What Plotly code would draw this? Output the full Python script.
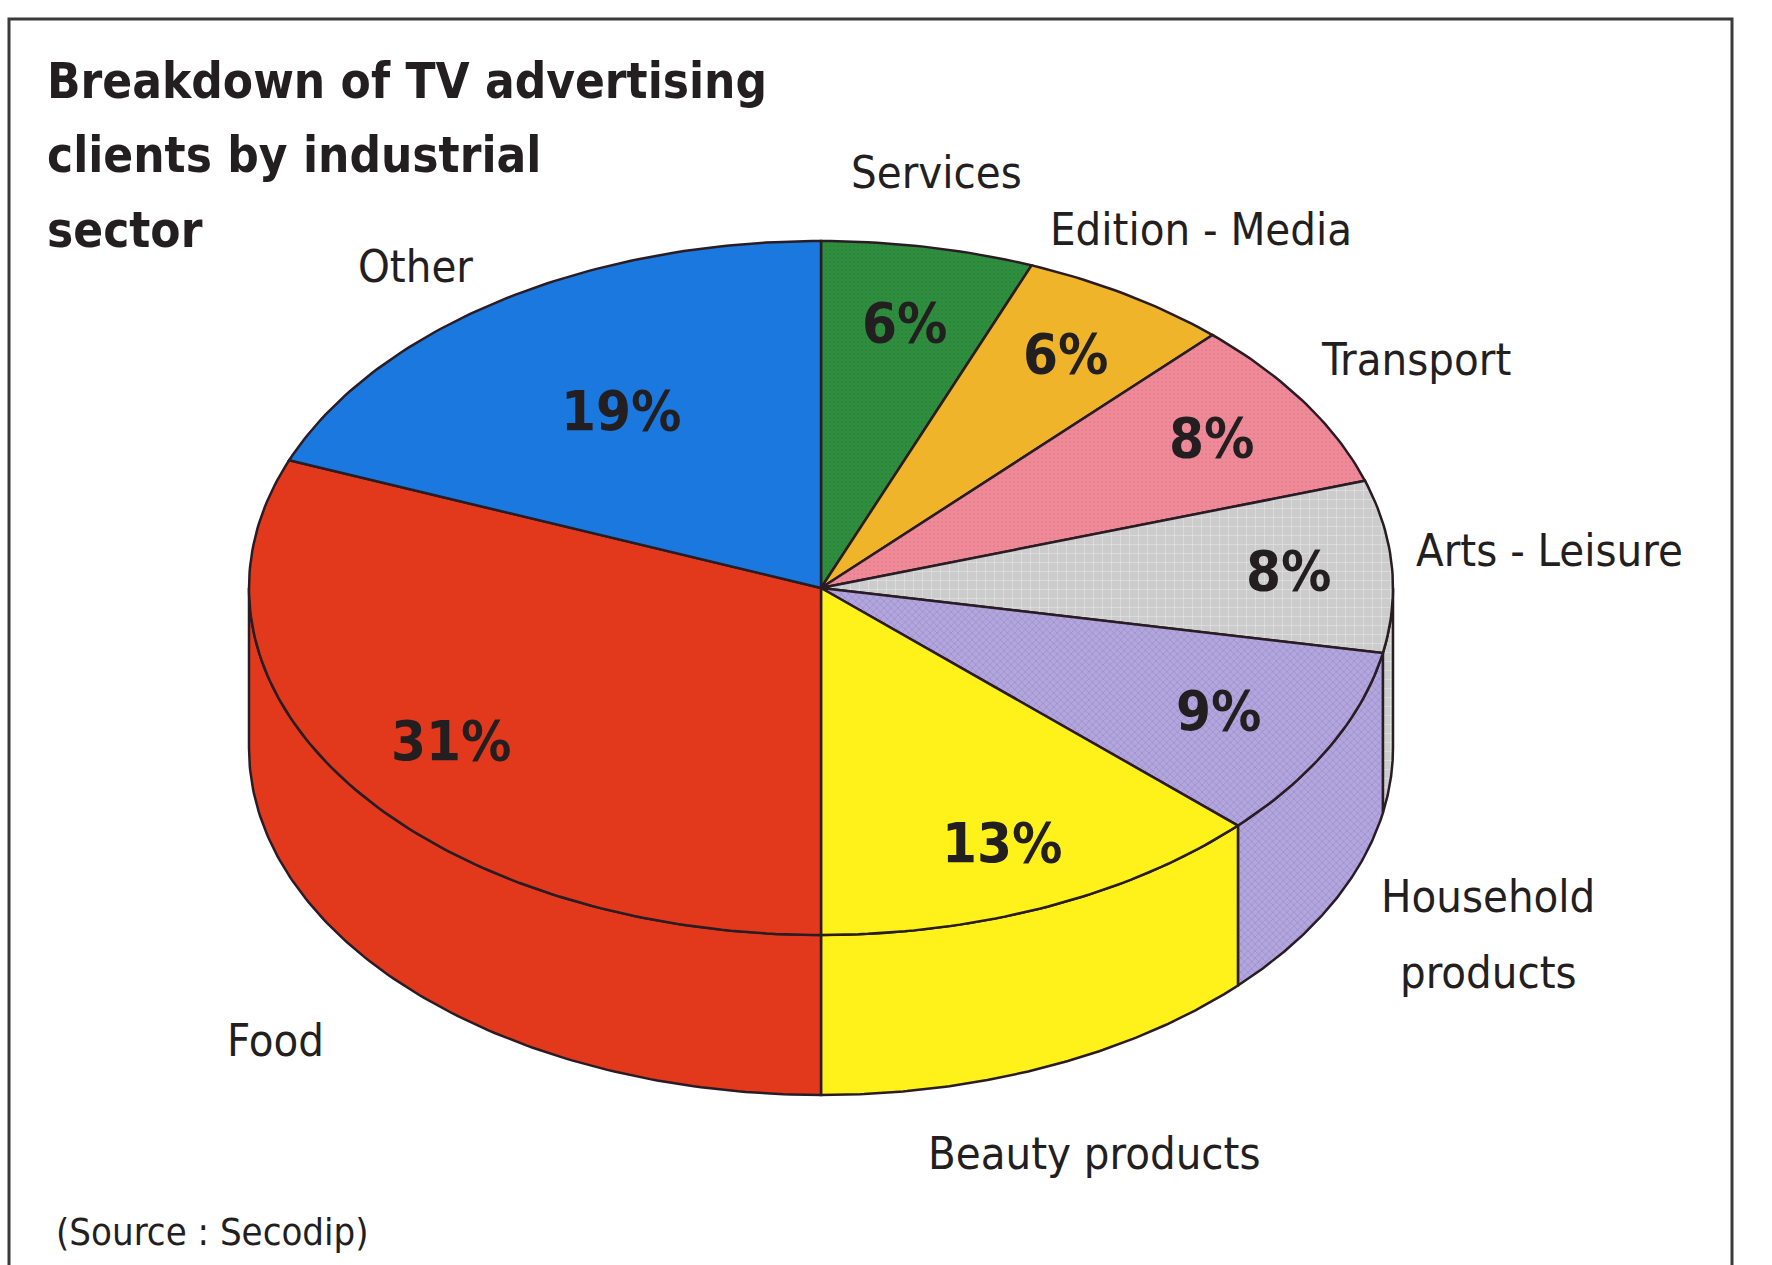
import numpy as np
import plotly.graph_objects as go

# ---- data -------------------------------------------------------------
sectors = ["Services", "Edition - Media", "Transport", "Arts - Leisure",
           "Household<br>products", "Beauty products", "Food", "Other"]
shares = [6, 6, 8, 8, 9, 13, 31, 19]
title_lines = ["Breakdown of TV advertising", "clients by industrial", "sector"]
source_note = "(Source : Secodip)"

# ---- styling ----------------------------------------------------------
slice_colors = ["#2f8e3d", "#efb42a", "#ef8a98", "#cccccc",
                "#b3a6dd", "#fff21a", "#e2391c", "#1a78de"]
slice_patterns = [dict(shape=".", size=4, solidity=0.12, fgcolor="#26793a"),
                  None,
                  dict(shape=".", size=4, solidity=0.15, fgcolor="#e27987"),
                  dict(shape="+", size=9, solidity=0.12, fgcolor="#e8e8e8"),
                  dict(shape="x", size=5, solidity=0.22, fgcolor="#9385c8"),
                  None, None, None]
EDGE = "#2a1c24"
TEXT = "#231f20"
FONT = "DejaVu Sans Condensed, Liberation Sans Narrow, Liberation Sans, sans-serif"

W, H = 1772, 1265
CX, CY = 821, 588          # centre of the top face
RX, RY = 572, 347          # ellipse radii of the tilted disc
DEPTH = 160                # thickness of the cylinder

# radial position (fraction of radius) of each percentage label
pct_radius = [0.78, 0.80, 0.81, 0.82, 0.78, 0.80, 0.78, 0.62]
# sector-name label anchors (x, y in page pixels)
name_xy = [(936, 172), (1201, 229), (1416, 359), (1549, 550),
           (1488, 934), (1094, 1153), (275, 1040), (415, 266)]
NAME_LINE = 76
title_y = [81, 155, 230]


def ellipse_pt(theta, r=1.0, dz=0.0):
    """Angle measured clockwise from 12 o'clock."""
    return CX + RX * r * np.sin(theta), CY - RY * r * np.cos(theta) + dz


total = float(sum(shares))
bounds = np.concatenate([[0.0], np.cumsum(shares)]) / total * 2 * np.pi

fig = go.Figure()


def add_poly(xs, ys, i):
    kw = dict(x=xs, y=ys, mode="lines", fill="toself",
              fillcolor=slice_colors[i],
              line=dict(color=EDGE, width=2.5),
              hoverinfo="skip", showlegend=False)
    if slice_patterns[i] is not None:
        p = dict(slice_patterns[i])
        p.update(bgcolor=slice_colors[i], fillmode="replace")
        kw["fillpattern"] = p
    fig.add_trace(go.Scatter(**kw))


# side walls: only the front half of the cylinder is visible
for i in range(len(shares)):
    a0, a1 = bounds[i], bounds[i + 1]
    lo, hi = max(a0, np.pi / 2), min(a1, 3 * np.pi / 2)
    if hi <= lo:
        continue
    t = np.linspace(lo, hi, 120)
    xt, yt = ellipse_pt(t)
    xb, yb = ellipse_pt(t[::-1], dz=DEPTH)
    xs = np.concatenate([xt, xb, xt[:1]])
    ys = np.concatenate([yt, yb, yt[:1]])
    add_poly(xs, ys, i)

# top face wedges
for i in range(len(shares)):
    a0, a1 = bounds[i], bounds[i + 1]
    t = np.linspace(a0, a1, max(20, int(400 * (a1 - a0) / (2 * np.pi))))
    xa, ya = ellipse_pt(t)
    xs = np.concatenate([[CX], xa, [CX]])
    ys = np.concatenate([[CY], ya, [CY]])
    add_poly(xs, ys, i)

annotations = []
# percentage labels at the middle angle of each wedge
for i, v in enumerate(shares):
    mid = (bounds[i] + bounds[i + 1]) / 2
    px, py = ellipse_pt(mid, r=pct_radius[i])
    annotations.append(dict(x=px, y=py, text=f"<b>{v}%</b>", showarrow=False,
                            xanchor="center", yanchor="middle",
                            font=dict(family=FONT, size=56, color=TEXT)))

# sector names around the pie (multi-line names get a taller leading)
for name, (nx, ny) in zip(sectors, name_xy):
    lines = name.split("<br>")
    y0 = ny - (len(lines) - 1) * NAME_LINE / 2
    for k, line in enumerate(lines):
        annotations.append(dict(x=nx, y=y0 + k * NAME_LINE, text=line, showarrow=False,
                                xanchor="center", yanchor="middle",
                                font=dict(family=FONT, size=45, color=TEXT)))

# title, one annotation per line
for line, ty in zip(title_lines, title_y):
    annotations.append(dict(x=45, y=ty, text=f"<b>{line}</b>", showarrow=False,
                            xanchor="left", yanchor="middle",
                            font=dict(family=FONT, size=49, color=TEXT)))

annotations.append(dict(x=54, y=1232, text=source_note, showarrow=False,
                        xanchor="left", yanchor="middle",
                        font=dict(family=FONT, size=38, color=TEXT)))

fig.update_layout(
    width=W, height=H,
    margin=dict(l=0, r=0, t=0, b=0),
    paper_bgcolor="white", plot_bgcolor="white",
    xaxis=dict(range=[0, W], visible=False, fixedrange=True),
    yaxis=dict(range=[H, 0], visible=False, fixedrange=True),
    annotations=annotations,
    shapes=[dict(type="path", path=f"M 9 {H + 10} L 9 19 L 1732 19 L 1732 {H + 10}",
                 line=dict(color="#3a3a3a", width=3), layer="below")],
)

fig.write_html("out.html")
